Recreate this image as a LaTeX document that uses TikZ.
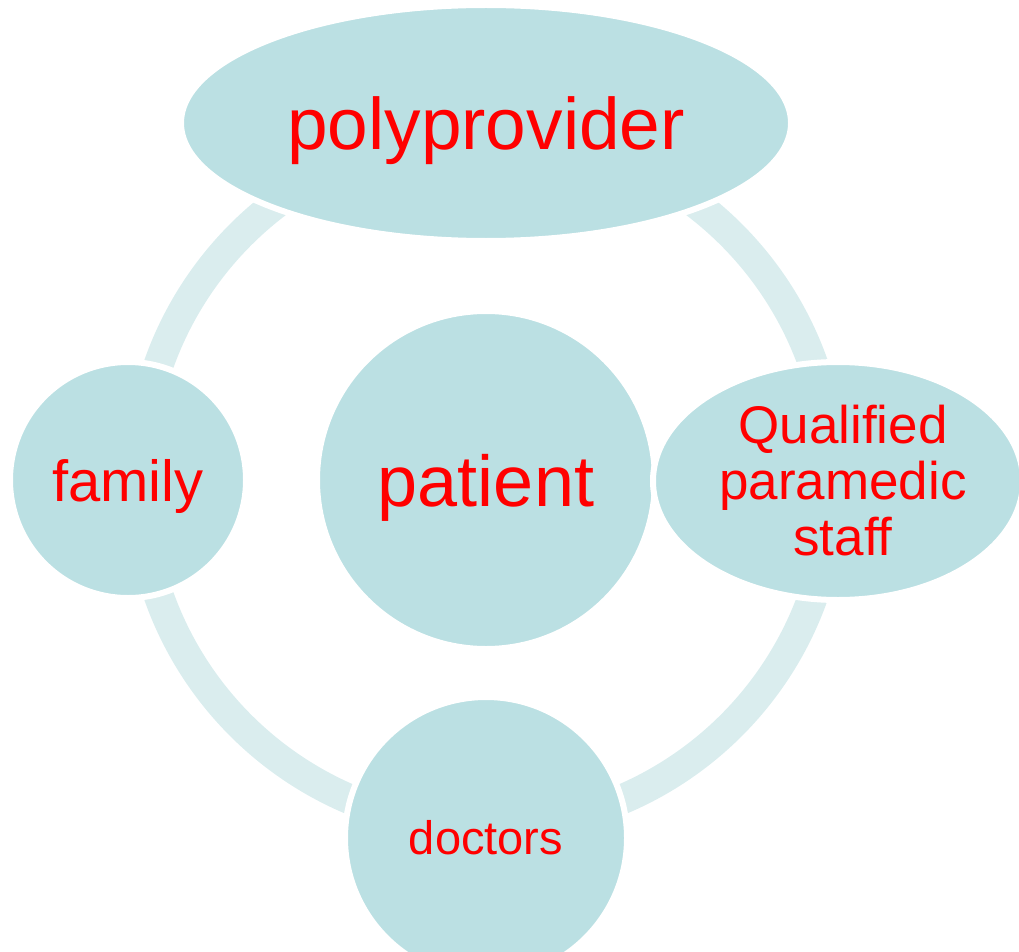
\documentclass[tikz,border=0pt]{standalone}
\usepackage{fontspec}
\setmainfont{Liberation Sans}
\usetikzlibrary{shapes.geometric}
\definecolor{nodefill}{HTML}{BBE0E3}
\definecolor{ringfill}{HTML}{DAEDEE}
\definecolor{labelred}{HTML}{FF0000}
\begin{document}
\begin{tikzpicture}[x=1pt,y=-1pt,
  bubble/.style={fill=nodefill, draw=white, line width=6pt, inner sep=0pt,
                 text=labelred, align=center},
  roundbubble/.style={bubble, circle},
  ovalbubble/.style={bubble, ellipse}]
\clip (0,0) rectangle (1019,952);
% connecting ring behind the bubbles
\draw[ringfill, line width=30pt] (486,480) circle[radius=347pt];
% centre
\node[roundbubble, minimum size=338pt, text depth=0pt,
      font=\fontsize{72}{80}\selectfont] (patient) at (486,480) {patient};
% surrounding bubbles
\node[ovalbubble, minimum width=610pt, minimum height=236pt, text depth=0pt,
      font=\fontsize{73}{80}\selectfont] (poly) at (486,123) {polyprovider};
\node[roundbubble, minimum size=236pt, text depth=0pt,
      font=\fontsize{58}{64}\selectfont] (family) at (128,480) {family};
\node[ovalbubble, minimum width=370pt, minimum height=238pt,
      font=\fontsize{53}{56}\selectfont] (staff) at (838,481)
      {\hspace*{10pt}Qualified\\\hspace*{10pt}paramedic\\\hspace*{10pt}staff};
\node[roundbubble, minimum size=282pt,
      font=\fontsize{47}{52}\selectfont] (doctors) at (486,838) {doctors};
\end{tikzpicture}
\end{document}
